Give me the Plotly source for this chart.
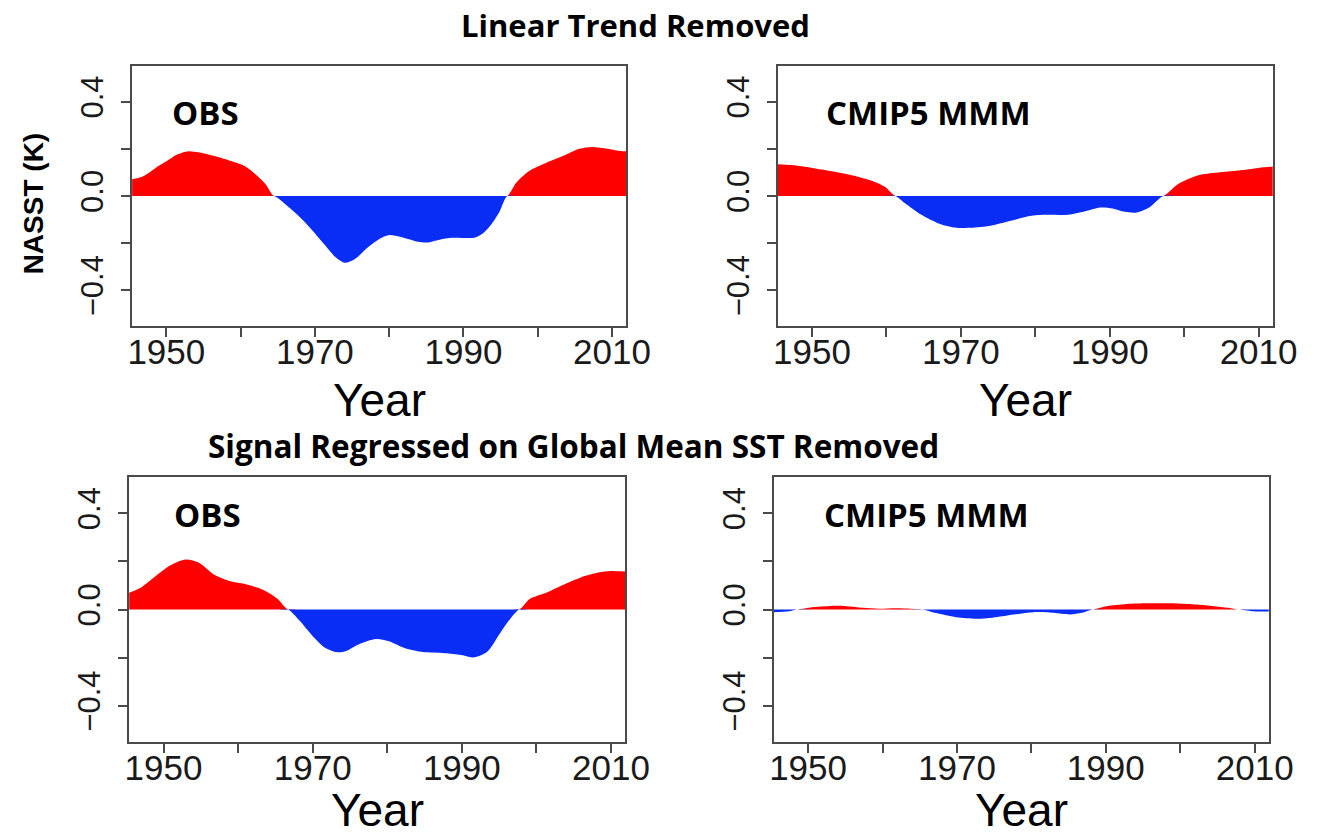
import plotly.graph_objects as go

W, H = 1330, 839

# ---- NASST anomaly series (K), read at irregular years ----
obs_lin_years = [1945.2, 1946.9, 1948.6, 1950.0, 1951.4, 1953.0, 1954.3, 1956.6, 1958.8, 1960.6,
                 1962.3, 1963.4, 1964.5, 1966.3, 1968.0, 1969.7, 1971.4, 1972.8, 1974.0, 1975.4,
                 1977.1, 1978.8, 1979.9, 1981.7, 1983.9, 1985.1, 1986.8, 1988.5, 1991.4, 1992.5,
                 1993.6, 1994.8, 1995.9, 1997.1, 1998.8, 2001.1, 2003.3, 2005.6, 2007.3, 2009.0,
                 2010.8, 2012.0]
obs_lin_vals = [0.070, 0.084, 0.120, 0.147, 0.175, 0.190, 0.185, 0.168, 0.147, 0.126,
                0.084, 0.049, 0.000, -0.042, -0.090, -0.147, -0.210, -0.260, -0.283, -0.267,
                -0.218, -0.180, -0.166, -0.175, -0.194, -0.197, -0.185, -0.177, -0.177, -0.161,
                -0.126, -0.070, 0.000, 0.056, 0.105, 0.140, 0.168, 0.200, 0.208, 0.202,
                0.192, 0.190]

mmm_lin_years = [1945.2, 1947.3, 1950.0, 1952.7, 1955.5, 1958.2, 1959.8, 1961.2, 1962.5, 1964.7,
                 1966.9, 1969.1, 1971.3, 1974.0, 1976.7, 1979.5, 1981.6, 1984.4, 1986.6, 1988.7,
                 1990.4, 1992.0, 1993.6, 1995.3, 1997.2, 1999.1, 2001.8, 2004.5, 2007.3, 2010.0,
                 2012.2]
mmm_lin_vals = [0.135, 0.131, 0.119, 0.105, 0.087, 0.063, 0.039, 0.000, -0.031, -0.080,
                -0.115, -0.133, -0.135, -0.126, -0.105, -0.084, -0.080, -0.080, -0.066, -0.049,
                -0.053, -0.067, -0.070, -0.049, 0.000, 0.049, 0.087, 0.100, 0.108, 0.119,
                0.126]

obs_reg_years = [1945.1, 1947.0, 1948.7, 1951.0, 1953.0, 1954.7, 1956.7, 1959.0, 1961.3, 1963.6,
                 1965.3, 1966.7, 1968.2, 1969.9, 1971.6, 1973.3, 1974.5, 1976.2, 1978.5, 1980.2,
                 1982.5, 1984.8, 1987.7, 1989.9, 1991.7, 1993.4, 1995.1, 1996.5, 1997.7, 1999.1,
                 2001.4, 2004.3, 2006.6, 2008.3, 2010.0, 2012.0]
obs_reg_vals = [0.067, 0.092, 0.133, 0.185, 0.208, 0.195, 0.147, 0.117, 0.103, 0.078,
                0.044, 0.000, -0.045, -0.107, -0.158, -0.178, -0.173, -0.145, -0.123, -0.132,
                -0.162, -0.177, -0.182, -0.189, -0.199, -0.176, -0.100, -0.038, 0.000, 0.044,
                0.071, 0.112, 0.140, 0.154, 0.160, 0.158]

mmm_reg_years = [1945.2, 1947.5, 1948.6, 1950.8, 1953.0, 1955.2, 1957.4, 1959.5, 1961.7, 1963.9,
                 1965.3, 1967.2, 1969.9, 1972.6, 1974.8, 1977.6, 1980.3, 1983.0, 1985.2, 1986.8,
                 1988.2, 1990.1, 1992.8, 1995.6, 1998.8, 2001.6, 2004.3, 2006.5, 2007.8, 2009.7,
                 2012.0]
mmm_reg_vals = [-0.011, -0.007, 0.000, 0.010, 0.015, 0.014, 0.007, 0.003, 0.005, 0.003,
                0.000, -0.015, -0.032, -0.038, -0.034, -0.021, -0.011, -0.014, -0.021, -0.014,
                0.000, 0.014, 0.023, 0.026, 0.026, 0.022, 0.015, 0.007, 0.000, -0.007,
                -0.008]

x_tick_vals = [1950, 1960, 1970, 1980, 1990, 2000, 2010]
x_tick_text = ["1950", "", "1970", "", "1990", "", "2010"]
y_tick_vals = [-0.4, -0.2, 0.0, 0.2, 0.4]
y_tick_text = ["\u22120.4", "", "0.0", "", "0.4"]

panel_titles = ["Linear Trend Removed", "Signal Regressed on Global Mean SST Removed"]
panel_labels = ["OBS", "CMIP5 MMM", "OBS", "CMIP5 MMM"]
y_label = "NASST (K)"
x_label = "Year"

RED = "#ff0000"
BLUE = "#0a2df6"
AX = "#4a4a4a"
SANS = "Liberation Sans, Arial, sans-serif"
HEAD = "Open Sans, sans-serif"

# plot-area boxes in pixels: (left, top, right, bottom)
boxes = [(131, 66, 636, 326), (791, 66, 1297, 326),
         (128, 477, 635, 742), (787, 477, 1293, 742)]
series = [(obs_lin_years, obs_lin_vals), (mmm_lin_years, mmm_lin_vals),
          (obs_reg_years, obs_reg_vals), (mmm_reg_years, mmm_reg_vals)]

fig = go.Figure()
layout = {}
for i, ((yrs, vals), (l, t, r, b)) in enumerate(zip(series, boxes)):
    k = "" if i == 0 else str(i + 1)
    xa, ya = "x" + k, "y" + k
    pos = [max(v, 0.0) for v in vals]
    neg = [min(v, 0.0) for v in vals]
    for part, col in ((pos, RED), (neg, BLUE)):
        fig.add_trace(go.Scatter(
            x=yrs, y=part, xaxis=xa, yaxis=ya, mode="lines",
            line=dict(width=0, shape="spline", smoothing=0.8, color=col),
            fill="tozeroy", fillcolor=col, hoverinfo="skip", showlegend=False))
    common = dict(showline=True, linecolor=AX, linewidth=1.5, mirror=True,
                  ticks="outside", ticklen=9, tickwidth=1.5, tickcolor=AX,
                  showgrid=False, zeroline=False)
    layout["xaxis" + k] = dict(
        domain=[l / W, r / W], anchor=ya, range=[1945.4, 2011.9],
        tickvals=x_tick_vals, ticktext=x_tick_text, ticklabelstandoff=-15,
        tickfont=dict(family=SANS, size=35, color="#1a1a1a"), **common)
    layout["yaxis" + k] = dict(
        domain=[1 - b / H, 1 - t / H], anchor=xa, range=[-0.551, 0.551],
        tickvals=y_tick_vals, ticktext=y_tick_text, tickangle=-90,
        ticklabelstandoff=6,
        tickfont=dict(family=SANS, size=31, color="#1a1a1a"), **common)


def note(text, px, py, size, family, xanchor="center", angle=0):
    return dict(text=text, x=px / W, y=1 - py / H, xref="paper", yref="paper",
                xanchor=xanchor, yanchor="middle", showarrow=False, textangle=angle,
                font=dict(family=family, size=size, color="black"))


annotations = [
    note("<b>%s</b>" % panel_titles[0], 646, 25, 31, HEAD),
    note("<b>%s</b>" % panel_titles[1], 582, 445, 31.5, HEAD),
]
# panel labels, anchored at their left edge
label_pos = [(170, 112), (838, 112), (172, 514), (836, 514)]
for txt, (px, py) in zip(panel_labels, label_pos):
    annotations.append(note("<b>%s</b>" % txt, px, py, 33, HEAD, xanchor="left"))
# x-axis titles
for i, (l, t, r, b) in enumerate(boxes):
    dy = 74 if i < 2 else 68
    annotations.append(note(x_label, (l + r) / 2, b + dy, 46, SANS))
# y-axis title on the first panel only
annotations.append(note("<b>%s</b>" % y_label, 30, 203, 28, SANS, angle=-90))

fig.update_layout(width=W, height=H, autosize=False,
                  margin=dict(l=0, r=0, t=0, b=0),
                  paper_bgcolor="white", plot_bgcolor="white",
                  annotations=annotations, **layout)

fig.write_html("out.html")
